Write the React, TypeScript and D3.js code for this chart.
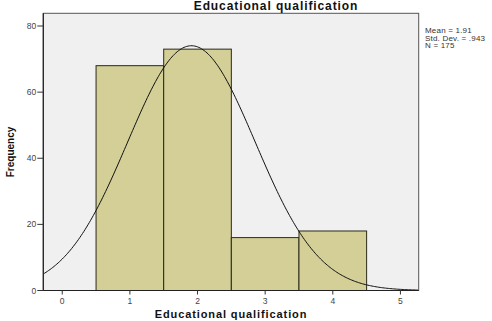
import React from "react";
import * as d3 from "d3";

const categories = [1, 2, 3, 4];
const frequencies = [68, 73, 16, 18];
const xTicks = [0, 1, 2, 3, 4, 5];
const yTicks = [0, 20, 40, 60, 80];
const meanValue = 1.91;
const stdDev = 0.943;
const nTotal = 175;
const statLines = ["Mean = 1.91", "Std. Dev. = .943", "N = 175"];

export default function App() {
  const W = 492, H = 321;
  const left = 43.3, right = 418.7, top = 13.3, bottom = 290.5;
  const x = d3.scaleLinear().domain([-0.28, 5.27]).range([left, right]);
  const y = d3.scaleLinear().domain([0, 80]).range([bottom, 26]);

  const pdf = (v: number) =>
    (nTotal / (stdDev * Math.sqrt(2 * Math.PI))) *
    Math.exp(-0.5 * ((v - meanValue) / stdDev) ** 2);
  const curvePts = d3.range(-0.28, 5.2701, 0.02).map((v) => [v, pdf(v)] as [number, number]);
  const line = d3
    .line<[number, number]>()
    .x((d) => x(d[0]))
    .y((d) => y(d[1]))
    .curve(d3.curveBasis);

  const font = "Arial, 'Liberation Sans', sans-serif";
  const fill = "#d3cf97";

  return (
    <svg width={W} height={H} style={{ position: "absolute", left: 0, top: 0, background: "#fff" }}>
      <rect x={left} y={top} width={right - left} height={bottom - top} fill="#f0f0f0" stroke="#555" strokeWidth={1} />
      {categories.map((c, i) => (
        <rect
          key={c}
          x={x(c - 0.5)}
          y={y(frequencies[i])}
          width={x(c + 0.5) - x(c - 0.5)}
          height={bottom - y(frequencies[i])}
          fill={fill}
          stroke="#2a2a1a"
          strokeWidth={1}
        />
      ))}
      <clipPath id="plotclip">
        <rect x={left} y={top} width={right - left} height={bottom - top} />
      </clipPath>
      <path d={line(curvePts) || ""} fill="none" stroke="#111" strokeWidth={1} clipPath="url(#plotclip)" />
      <line x1={left} x2={left} y1={top} y2={bottom} stroke="#222" strokeWidth={1.2} />
      <line x1={left} x2={right} y1={bottom} y2={bottom} stroke="#222" strokeWidth={1.2} />
      {yTicks.map((t) => (
        <g key={t}>
          <line x1={left - 6} x2={left} y1={y(t)} y2={y(t)} stroke="#333" />
          <text x={left - 7} y={y(t) + 3} textAnchor="end" fontSize={8.5} fill="#444" fontFamily={font}>
            {t}
          </text>
        </g>
      ))}
      {xTicks.map((t) => (
        <g key={t}>
          <line x1={x(t)} x2={x(t)} y1={bottom} y2={bottom + 4} stroke="#333" />
          <text x={x(t)} y={bottom + 13} textAnchor="middle" fontSize={8.5} fill="#444" fontFamily={font}>
            {t}
          </text>
        </g>
      ))}
      <text x={276} y={10} textAnchor="middle" fontSize={12} fontWeight="bold" fill="#111" fontFamily={font} letterSpacing={0.9}>
        Educational qualification
      </text>
      <text x={231} y={318} textAnchor="middle" fontSize={11} fontWeight="bold" fill="#111" fontFamily={font} letterSpacing={0.9}>
        Educational qualification
      </text>
      <text
        transform={`translate(14, ${152}) rotate(-90)`}
        textAnchor="middle"
        fontSize={10}
        fontWeight="bold"
        fill="#111"
        fontFamily={font}
      >
        Frequency
      </text>
      {statLines.map((s, i) => (
        <text key={s} x={425} y={33 + i * 7.5} fontSize={8} fill="#333" fontFamily={font} letterSpacing={0.2}>
          {s}
        </text>
      ))}
    </svg>
  );
}
